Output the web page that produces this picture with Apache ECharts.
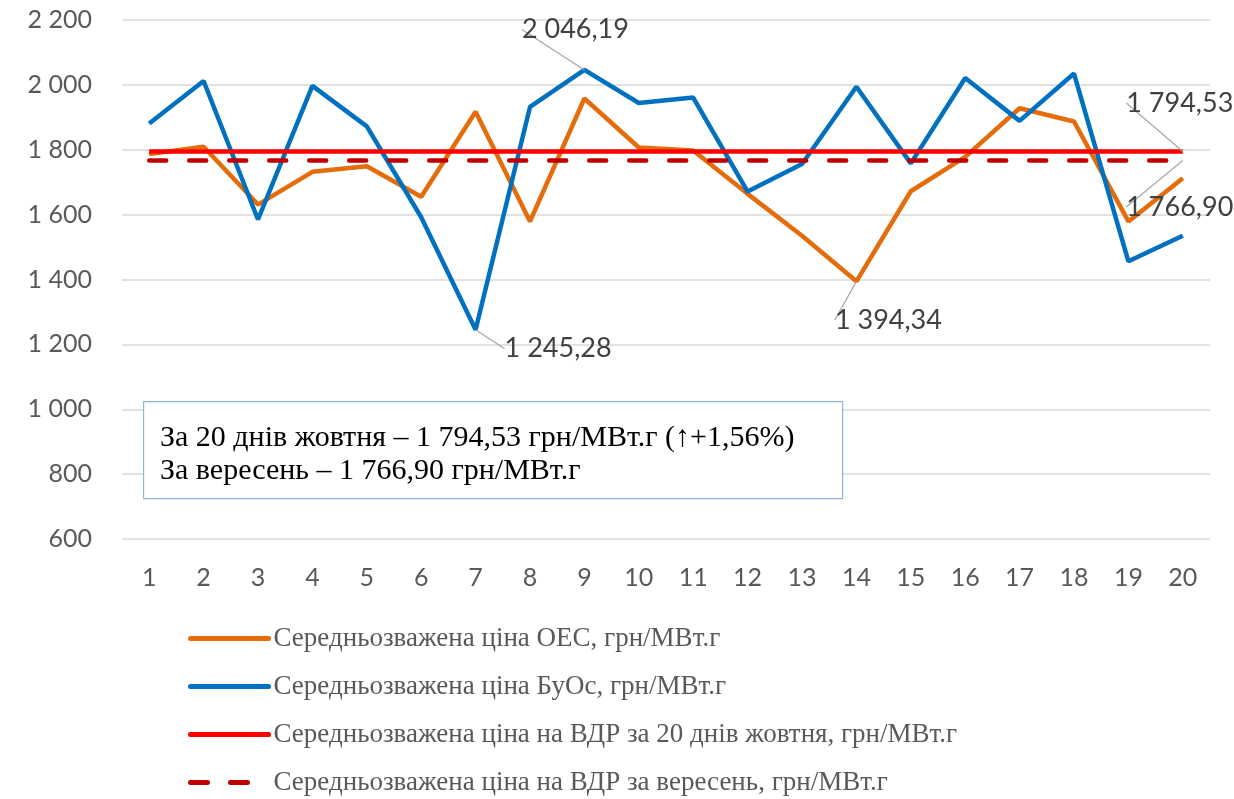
<!DOCTYPE html>
<html><head><meta charset="utf-8">
<script src="https://cdn.jsdelivr.net/npm/echarts@6/dist/echarts.min.js"></script>
<style>html,body{margin:0;padding:0;background:#fff}#c{width:1234px;height:799px}</style>
</head><body><div id="c"></div>
<script>
const categories = ['1','2','3','4','5','6','7','8','9','10','11','12','13','14','15','16','17','18','19','20'];
const oesValues = [1787,1809,1631,1732,1749,1655,1917,1579,1958,1807,1798,1664,1535,1394.34,1672,1778,1928,1887,1579,1712];
const buosValues = [1881,2012,1585,1997,1872,1592,1245.28,1932,2046.19,1944,1961,1671,1756,1994,1758,2021,1889,2035,1456,1535];
const octAvg = 1794.53;
const sepAvg = 1766.90;
const seriesNames = [
  'Середньозважена ціна ОЕС, грн/МВт.г',
  'Середньозважена ціна БуОс, грн/МВт.г',
  'Середньозважена ціна на ВДР за 20 днів жовтня, грн/МВт.г',
  'Середньозважена ціна на ВДР за вересень, грн/МВт.г'
];
const noteLines = ['За 20 днів жовтня – 1 794,53 грн/МВт.г (↑+1,56%)', 'За вересень – 1 766,90 грн/МВт.г'];

function fmt(v, dec) {
  const s = v.toFixed(dec);
  const parts = s.split('.');
  const intPart = parts[0].replace(/\B(?=(\d{3})+(?!\d))/g, ' ');
  return parts.length > 1 ? intPart + ',' + parts[1] : intPart;
}
const sansFont = 'Lato, "Open Sans", sans-serif';
const lblFont = {fontFamily: sansFont, fontSize: 27, color: '#404040'};
const guide = {show: true, lineStyle: {color: '#A6A6A6', width: 1.2}};

function withLabel(arr, idx, pos) {
  return arr.map((v, i) => i === idx ? {
    value: v,
    label: Object.assign({show: true, position: pos, formatter: p => fmt(p.value, 2)}, lblFont),
    labelLine: guide
  } : v);
}

const oesData = withLabel(oesValues, 13, 'bottom');
const buosData = buosValues.map((v, i) => {
  if (i === 6) return {value: v, label: Object.assign({show: true, position: 'right', formatter: p => fmt(p.value, 2)}, lblFont), labelLine: guide};
  if (i === 8) return {value: v, label: Object.assign({show: true, position: 'top', formatter: p => fmt(p.value, 2)}, lblFont), labelLine: guide};
  return v;
});
const octData = withLabel(categories.map(() => octAvg), 19, 'top');
const sepData = withLabel(categories.map(() => sepAvg), 19, 'bottom');

const lineBase = {type: 'line', symbol: 'circle', symbolSize: 0, showSymbol: true};

const chart = echarts.init(document.getElementById('c'));
chart.setOption({
  animation: false,
  grid: {left: 122, right: 24, top: 20, bottom: 260},
  xAxis: {
    type: 'category', data: categories,
    axisLine: {show: false}, axisTick: {show: false},
    axisLabel: {margin: 26, fontFamily: sansFont, fontSize: 25, color: '#595959'}
  },
  yAxis: {
    type: 'value', min: 600, max: 2200, interval: 200,
    axisLine: {show: false}, axisTick: {show: false},
    axisLabel: {margin: 30, fontFamily: sansFont, fontSize: 25, color: '#595959', formatter: v => fmt(v, 0)},
    splitLine: {lineStyle: {color: '#D9D9D9', width: 1.5}}
  },
  legend: {
    orient: 'vertical', left: 188, top: 625, padding: 0,
    itemWidth: 78, itemHeight: 14, itemGap: 21,
    itemStyle: {opacity: 0},
    lineStyle: {width: 5, cap: 'round'},
    textStyle: {fontFamily: '"Liberation Serif", "Times New Roman", serif', fontSize: 27, color: '#595959', lineHeight: 27},
    data: seriesNames
  },
  series: [
    Object.assign({name: seriesNames[0], data: oesData, z: 3,
     labelLayout: {dx: 32, dy: 20},
     lineStyle: {color: '#E46C0A', width: 4.5}, itemStyle: {color: '#E46C0A'}}, lineBase),
    Object.assign({name: seriesNames[1], data: buosData, z: 4,
     labelLayout: p => p.dataIndex === 6 ? {dx: 24, dy: 19} : {dx: -9, dy: -22},
     lineStyle: {color: '#0070C0', width: 4.5}, itemStyle: {color: '#0070C0'}}, lineBase),
    Object.assign({name: seriesNames[2], data: octData, z: 5,
     labelLayout: {dx: -3, dy: -30},
     lineStyle: {color: '#FF0000', width: 4.5}, itemStyle: {color: '#FF0000'}}, lineBase),
    Object.assign({name: seriesNames[3], data: sepData, z: 5,
     labelLayout: {dx: -3, dy: 28},
     lineStyle: {color: '#C00000', width: 4.5, type: [17, 23], cap: 'round'}, itemStyle: {color: '#C00000'}}, lineBase)
  ],
  graphic: [
    {type: 'rect', left: 143, top: 401, z: 10,
     shape: {width: 699, height: 97},
     style: {fill: '#fff', stroke: '#8EB4E3', lineWidth: 1.2}},
    {type: 'text', left: 160, top: 422, z: 11,
     style: {text: noteLines.join('\n'), font: '30px "Liberation Serif", "Times New Roman", serif', fill: '#000', lineHeight: 33}}
  ]
});
</script></body></html>
